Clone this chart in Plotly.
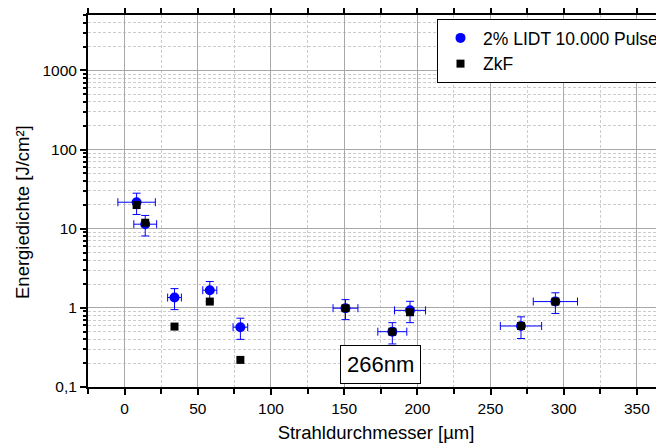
import plotly.graph_objects as go

# Data
x_lidt = [8.2, 14.1, 34.1, 58.2, 79.1, 150.9, 182.9, 195.0, 270.8, 294.3]
y_lidt = [21.6, 11.4, 1.35, 1.67, 0.57, 0.99, 0.50, 0.93, 0.59, 1.2]
x_err = [12.8, 7.8, 4.7, 4.8, 5.0, 8.5, 9.9, 10.6, 14.1, 15.1]
y_err = [6.5, 3.3, 0.4, 0.48, 0.17, 0.28, 0.15, 0.28, 0.18, 0.35]

x_zkf = [8.2, 14.1, 34.1, 58.2, 79.1, 150.9, 182.9, 195.0, 270.8, 294.3]
y_zkf = [19.9, 11.9, 0.58, 1.2, 0.22, 0.99, 0.50, 0.88, 0.59, 1.2]

y_tickvals = [0.1, 1, 10, 100, 1000]
y_ticktext = ["0,1", "1", "10", "100", "1000"]
x_tickvals = [0, 50, 100, 150, 200, 250, 300, 350]

FONT = "Liberation Sans, Arial, sans-serif"

fig = go.Figure()
fig.add_trace(go.Scatter(
    x=x_lidt, y=y_lidt, mode="markers", name="2% LIDT 10.000 Pulse",
    marker=dict(symbol="circle", size=10, color="#0000ff"),
    error_x=dict(type="data", array=x_err, color="#0000ff", thickness=1, width=4),
    error_y=dict(type="data", array=y_err, color="#0000ff", thickness=1, width=4),
))
fig.add_trace(go.Scatter(
    x=x_zkf, y=y_zkf, mode="markers", name="ZkF",
    marker=dict(symbol="square", size=8, color="#000000"),
))

fig.add_annotation(
    x=175, y=-0.71, xref="x", yref="y", text="266nm", showarrow=False,
    font=dict(family=FONT, size=22, color="black"),
    bgcolor="white", bordercolor="black", borderwidth=1, borderpad=6,
)

# y-axis title placed as annotation to match the reference's vertical offset
fig.add_annotation(
    x=(22 - 88) / 576, y=1 - (212 - 15) / 372, xref="paper", yref="paper",
    text="Energiedichte [J/cm²]", textangle=-90, showarrow=False,
    xanchor="center", yanchor="middle",
    font=dict(family=FONT, size=18.5, color="black"),
)

fig.update_layout(
    width=656, height=435,
    margin=dict(l=80, r=0, t=7, b=56),
    paper_bgcolor="white", plot_bgcolor="white",
    font=dict(family=FONT, color="black"),
    showlegend=True,
    legend=dict(
        x=(437 - 88) / 576, y=1 - (19 - 15) / 372, xanchor="left", yanchor="top",
        bgcolor="white", bordercolor="black", borderwidth=1,
        font=dict(family=FONT, size=17.5, color="black"),
        tracegroupgap=0, itemwidth=35,
    ),
)

fig.update_xaxes(
    range=[-25, 368.5],
    tickmode="array", tickvals=x_tickvals,
    ticks="outside", ticklen=6, tickwidth=1.5, tickcolor="black",
    showline=True, linecolor="black", linewidth=2, mirror="ticks",
    showgrid=True, gridcolor="#a8a8a8", gridwidth=1,
    zeroline=False,
    tickfont=dict(family=FONT, size=15.5, color="black"),
    title=dict(text="Strahldurchmesser [µm]", font=dict(family=FONT, size=18.5, color="black"), standoff=10),
    minor=dict(tickmode="linear", tick0=-25, dtick=50, ticks="outside", ticklen=5, tickwidth=1.5,
               tickcolor="black", showgrid=True, gridcolor="#cccccc", griddash="3px,2px", gridwidth=1),
)

fig.update_yaxes(
    type="log", range=[-1, 3.70],
    tickmode="array", tickvals=y_tickvals, ticktext=y_ticktext,
    ticks="outside", ticklen=6, tickwidth=1.5, tickcolor="black",
    showline=True, linecolor="black", linewidth=2, mirror=False,
    showgrid=True, gridcolor="#a8a8a8", gridwidth=1,
    zeroline=False,
    tickfont=dict(family=FONT, size=15.5, color="black"),
    minor=dict(tickmode="linear", dtick="D1", ticks="outside", ticklen=3, tickwidth=1.5,
               tickcolor="black", showgrid=True, gridcolor="#cccccc", griddash="3px,2px", gridwidth=1),
)

fig.write_html("out.html")
